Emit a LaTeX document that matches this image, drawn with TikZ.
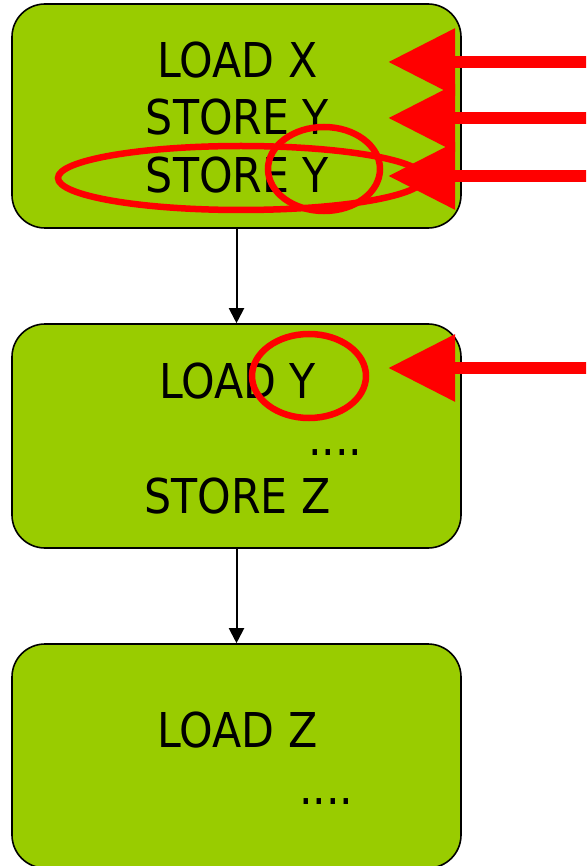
\documentclass[tikz,border=0pt]{standalone}
\usepackage{fontspec}
\setmainfont{DejaVu Sans}[FakeStretch=0.89]
\usetikzlibrary{arrows.meta}
\definecolor{boxgreen}{HTML}{99CC00}
\definecolor{mark}{HTML}{FF0000}
\begin{document}
\begin{tikzpicture}[x=1pt,y=-1pt,
  block/.style={draw=black, line width=1.6pt, fill=boxgreen, rounded corners=33pt,
    minimum width=449pt, minimum height=224pt, inner sep=0pt},
  txt/.style={font=\fontsize{48}{48}\selectfont, anchor=base, inner sep=0pt},
  dots/.style={font=\fontsize{48}{48}\selectfont, anchor=base west, inner sep=0pt},
  flow/.style={draw=black, line width=2pt, -{Triangle[length=15pt,width=15pt]}},
  hit/.style={draw=mark, line width=12.5pt, -{Triangle[length=67pt,width=64pt]}},
  ring/.style={draw=mark, line width=6.5pt}]
  \useasboundingbox (0,0) rectangle (586,866);
  \clip (0,0) rectangle (586,866);

  % three code blocks
  \node[block] (b1) at (236.5,116) {};
  \node[block] (b2) at (236.5,436) {};
  \node[block] (b3) at (236.5,756) {};

  % block contents
  \node[txt] (l1) at (237.5,78)  {LOAD X};
  \node[txt] (l2) at (237.5,135) {STORE Y};
  \node[txt] (l3) at (237.5,193) {STORE Y};

  \node[txt] (l4) at (237.5,398) {LOAD Y};
  \node[dots] (d1) at (308,455)  {....};
  \node[txt] (l5) at (237.5,513) {STORE Z};

  \node[txt] (l6) at (237.5,747) {LOAD Z};
  \node[dots] (d2) at (299,804)  {....};

  % control flow
  \draw[flow] (b1.south) -- (b2.north);
  \draw[flow] (b2.south) -- (b3.north);

  % highlighted accesses
  \draw[ring] (241,178) ellipse [x radius=183pt, y radius=32pt];
  \draw[ring] (324,169) ellipse [x radius=56pt, y radius=42pt];
  \draw[ring] (309,376) ellipse [x radius=57pt, y radius=42pt];

  % incoming references
  \coordinate (s1) at (600,62);  \coordinate (t1) at (388,62);
  \coordinate (s2) at (600,118); \coordinate (t2) at (388,118);
  \coordinate (s3) at (600,176); \coordinate (t3) at (388,176);
  \coordinate (s4) at (600,368); \coordinate (t4) at (388,368);
  \draw[hit] (s1) -- (t1);
  \draw[hit] (s2) -- (t2);
  \draw[hit] (s3) -- (t3);
  \draw[hit] (s4) -- (t4);
\end{tikzpicture}
\end{document}
